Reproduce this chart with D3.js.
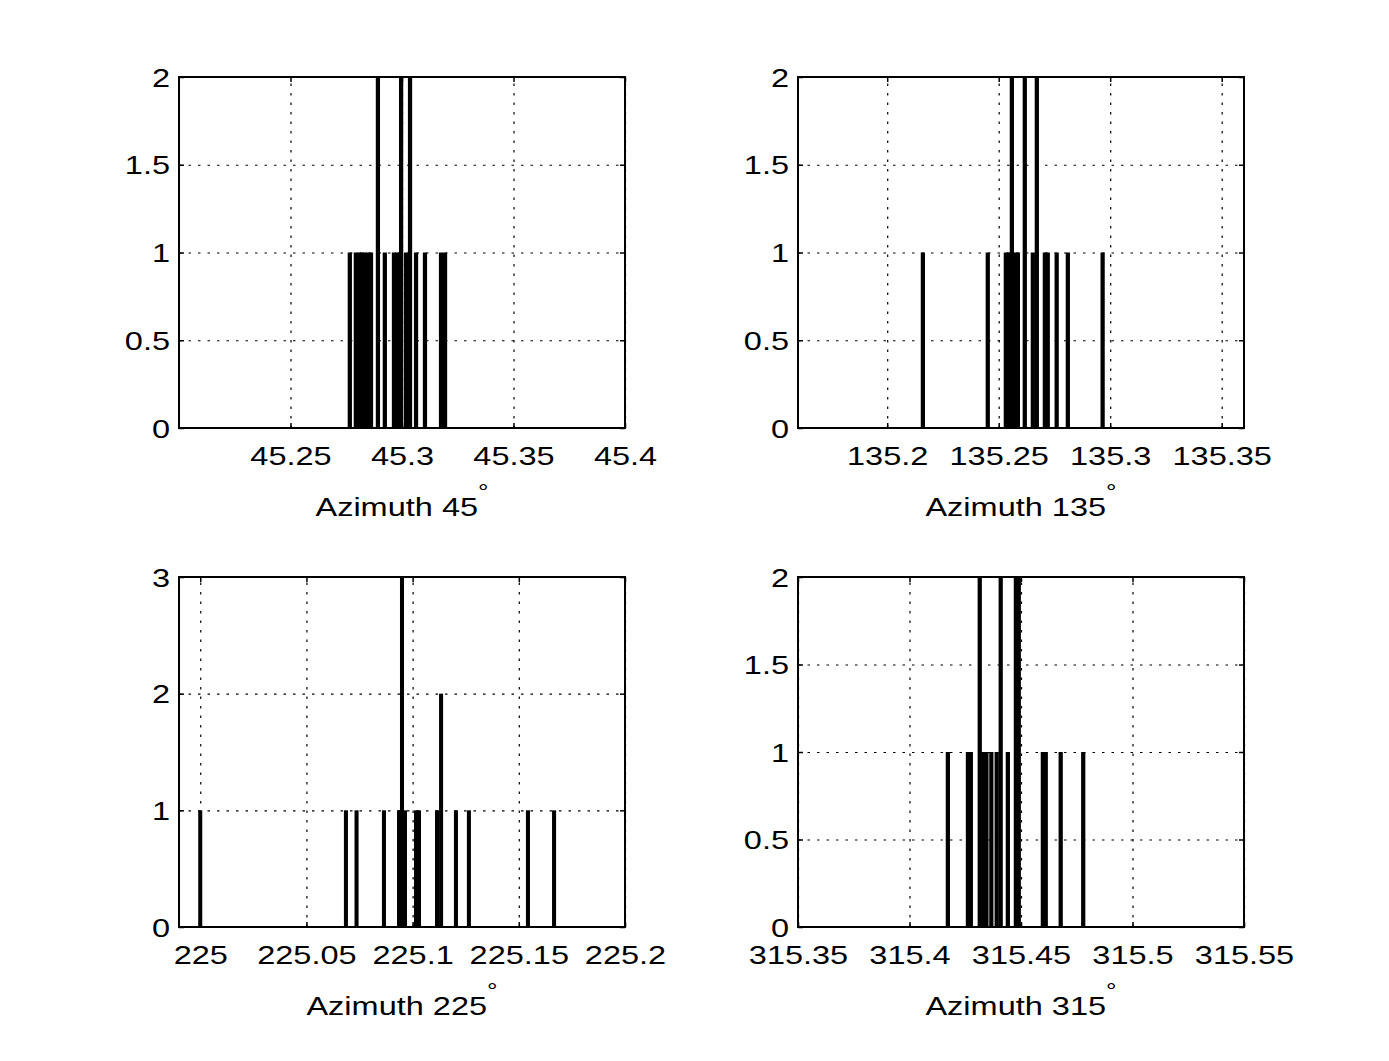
<!DOCTYPE html>
<html><head><meta charset="utf-8">
<script src="https://cdn.jsdelivr.net/npm/d3@7"></script>
<style>body{margin:0;background:#fff}text{font-family:"Liberation Sans",Arial,sans-serif;fill:#000}</style>
</head><body><svg id="c" width="1389" height="1061"></svg>
<script>
// ---- data ----
const az45Values  = [45.2766,45.2793,45.2807,45.2820,45.2833,45.2847,45.2861,45.2892,45.2923,45.2964,45.2977,45.2996,45.3018,45.3036,45.3063,45.3103,45.3175,45.3193];
const az45Counts  = [1,1,1,1,1,1,1,2,1,1,1,2,1,2,1,1,1,1];
const az135Values = [135.2160,135.2451,135.2532,135.2545,135.2559,135.2572,135.2586,135.2617,135.2653,135.2671,135.2707,135.2720,135.2760,135.2810,135.2966];
const az135Counts = [1,1,1,1,2,1,1,2,1,2,1,1,1,1,1];
const az225Values = [225.0000,225.0686,225.0736,225.0865,225.0936,225.0950,225.0964,225.1016,225.1030,225.1115,225.1134,225.1204,225.1265,225.1543,225.1666];
const az225Counts = [1,1,1,1,1,3,1,1,1,1,2,1,1,1,1];
const az315Values = [315.4172,315.4262,315.4275,315.4315,315.4331,315.4345,315.4367,315.4391,315.4409,315.4441,315.4477,315.4490,315.4598,315.4611,315.4678,315.4779];
const az315Counts = [1,1,1,2,1,1,1,1,2,1,2,2,1,1,1,1];

const az45XTicks  = [45.25,45.3,45.35,45.4];
const az135XTicks = [135.2,135.25,135.3,135.35];
const az225XTicks = [225,225.05,225.1,225.15,225.2];
const az315XTicks = [315.35,315.4,315.45,315.5,315.55];
const yTicksTwo   = [0,0.5,1,1.5,2];
const yTicksThree = [0,1,2,3];
const xLabels     = ["Azimuth 45","Azimuth 135","Azimuth 225","Azimuth 315"];

// ---- layout ----
const svg = d3.select("#c");
const SX = 1.25, FS = 26, BARW = 0.0019;
const panels = [
  {vals:az45Values,  cnt:az45Counts,  xd:[45.2,45.4],     xt:az45XTicks,  yd:[0,2], yt:yTicksTwo,   lab:xLabels[0], left:179, top:77,  h:351},
  {vals:az135Values, cnt:az135Counts, xd:[135.16,135.36], xt:az135XTicks, yd:[0,2], yt:yTicksTwo,   lab:xLabels[1], left:798, top:77,  h:351},
  {vals:az225Values, cnt:az225Counts, xd:[224.99,225.2],  xt:az225XTicks, yd:[0,3], yt:yTicksThree, lab:xLabels[2], left:179, top:577, h:350},
  {vals:az315Values, cnt:az315Counts, xd:[315.35,315.55], xt:az315XTicks, yd:[0,2], yt:yTicksTwo,   lab:xLabels[3], left:798, top:577, h:350}
];
const W = 446;

panels.forEach(p => {
  const g = svg.append("g").attr("transform", `translate(${p.left},${p.top})`);
  const x = d3.scaleLinear().domain(p.xd).range([0, W]);
  const y = d3.scaleLinear().domain(p.yd).range([p.h, 0]);

  // grid
  const gx = g.append("g").attr("transform", `translate(0,${p.h})`)
    .call(d3.axisBottom(x).tickValues(p.xt).tickSize(-p.h).tickFormat(""));
  const gy = g.append("g").call(d3.axisLeft(y).tickValues(p.yt).tickSize(-W).tickFormat(""));
  [gx, gy].forEach(a => {
    a.select(".domain").remove();
    a.selectAll("line").attr("stroke", "#000").attr("stroke-width", 1.2).attr("stroke-dasharray", "2.5,7");
  });

  // bars
  g.selectAll("rect.bar").data(p.vals).join("rect").attr("class", "bar")
    .attr("x", d => x(d - BARW / 2))
    .attr("width", d => x(d + BARW / 2) - x(d - BARW / 2))
    .attr("y", (d, i) => y(p.cnt[i]))
    .attr("height", (d, i) => y(0) - y(p.cnt[i]))
    .attr("fill", "#000");

  // axes with inward ticks
  const ab = g.append("g").attr("transform", `translate(0,${p.h})`)
    .call(d3.axisBottom(x).tickValues(p.xt).tickSize(-5).tickPadding(19).tickFormat(d => String(d)));
  const at = g.append("g").call(d3.axisTop(x).tickValues(p.xt).tickSize(-5).tickFormat(""));
  const al = g.append("g")
    .call(d3.axisLeft(y).tickValues(p.yt).tickSize(-5).tickPadding(9).tickFormat(d => String(d)));
  const ar = g.append("g").attr("transform", `translate(${W},0)`)
    .call(d3.axisRight(y).tickValues(p.yt).tickSize(-5).tickFormat(""));
  [ab, at, al, ar].forEach(a => {
    a.select(".domain").remove();
    a.selectAll("line").attr("stroke", "#000").attr("stroke-width", 1.5);
    a.selectAll("text").attr("font-size", FS).attr("font-family", '"Liberation Sans",Arial,sans-serif').attr("fill", "#000");
  });
  ab.selectAll("text").attr("transform", `scale(${SX},1)`);
  al.selectAll("text").attr("x", -9 / SX).attr("dy", "0.35em").attr("transform", `scale(${SX},1)`);

  // box
  g.append("rect").attr("x", 0).attr("y", 0).attr("width", W).attr("height", p.h)
    .attr("fill", "none").attr("stroke", "#000").attr("stroke-width", 2);

  // x label with degree superscript
  const t = g.append("text")
    .attr("transform", `translate(${W / 2},${p.h + 88}) scale(${SX},1)`)
    .attr("text-anchor", "middle").attr("font-size", FS);
  t.append("tspan").text(p.lab);
  t.append("tspan").attr("font-size", 21).attr("dy", -17).text("°");
});
</script></body></html>
